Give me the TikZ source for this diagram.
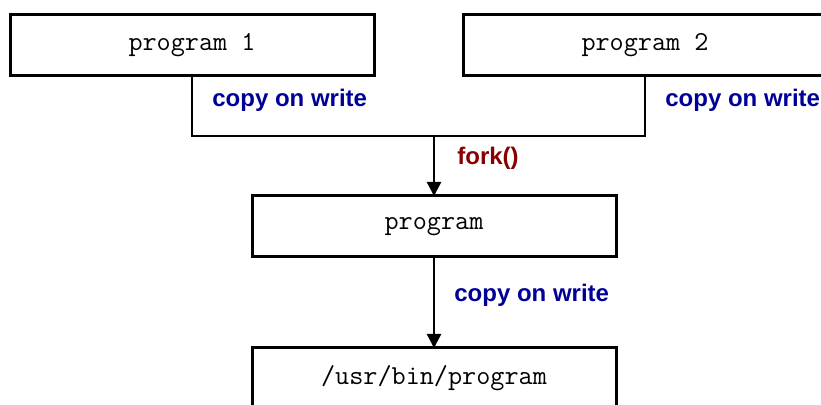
\documentclass[tikz,border=0pt]{standalone}
\usepackage{fontspec}
\setmainfont{Liberation Sans}
\usetikzlibrary{positioning,arrows.meta,calc}
\definecolor{cowblue}{RGB}{0,0,153}
\definecolor{forkred}{RGB}{136,0,0}
\tikzstyle{progbox}=[rectangle, draw=black, fill=white, line width=1.5pt,
 minimum width=182pt, minimum height=30.5pt, inner sep=0pt, outer sep=0pt,
 font=\ttfamily\fontsize{13.7}{16}\selectfont]
\tikzstyle{cowtext}=[inner sep=0pt, anchor=west, text=cowblue,
 font=\bfseries\fontsize{12}{14}\selectfont]
\tikzstyle{forktext}=[cowtext, text=forkred]
\tikzstyle{line}=[-, line width=1.25pt]
\tikzstyle{aline}=[-{Triangle[length=7pt,width=7pt]}, line width=1.25pt]

\begin{document}
\begin{tikzpicture}[node distance=0mm]
	\useasboundingbox (0,0) rectangle (410.5pt,-202.5pt);

	\node (prog1) [progbox] at (96pt,-22.75pt) {program 1};
	\node (prog2) [progbox, right=44.5pt of prog1] {program 2};
	\node (prog) [progbox] at (217pt,-113.25pt) {program};
	\node (binprog) [progbox, below=45.5pt of prog] {/usr/bin/program};

	\coordinate (forkpt) at (prog.north |- 0,-68pt);
%  both parents join here
	\draw[line] (prog1.south) |- (forkpt) -| (prog2.south);
	\draw[aline] (forkpt) to (prog.north);
	\draw[aline] (prog.south) to (binprog.north);

%labels
	\node (cow1) [cowtext] at ($(prog1.south)+(10pt,-12pt)$) {copy on write};
	\node (cow2) [cowtext] at ($(prog2.south)+(10pt,-12pt)$) {copy on write};
	\node (fork) [forktext] at ($(forkpt)+(11.5pt,-11pt)$) {fork()};
	\node (cow3) [cowtext] at ($(prog.south)+(10pt,-19pt)$) {copy on write};

\end{tikzpicture}
\end{document}
